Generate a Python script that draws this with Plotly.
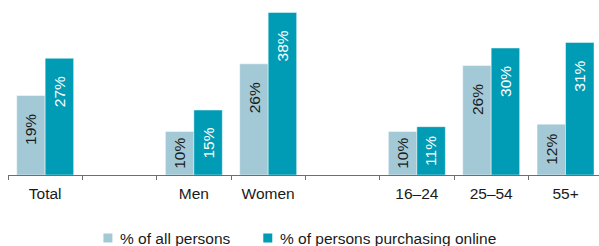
import plotly.graph_objects as go

categories = ["Total", "Men", "Women", "16–24", "25–54", "55+"]
cat_pos = [0, 2, 3, 5, 6, 7]  # slots 1 and 4 are empty spacers
all_persons = [18.6, 10.2, 26.0, 10.2, 25.6, 11.9]
online = [27.3, 15.2, 38.0, 11.3, 29.7, 31.0]
series_names = ["% of all persons", "% of persons purchasing online"]

LIGHT = "#A3C9D7"
DARK = "#009BB4"
FONT = "Liberation Sans, Arial, sans-serif"
FS = 15.5

W, H = 599, 246
ML, MR, MT, MB = 7.5, 0, 4, 71
BARGAP = 0.234
bar_w = (1 - BARGAP) / 2

fig = go.Figure()
for vals, col, name in [(all_persons, LIGHT, series_names[0]), (online, DARK, series_names[1])]:
    fig.add_trace(go.Bar(x=cat_pos, y=vals, name=name, marker=dict(color=col, line=dict(color="rgba(255,255,255,0.45)", width=1)),
                         showlegend=False, hoverinfo="skip"))

annotations = []
for i, (vals, tcol) in enumerate([(all_persons, "#1a1a1a"), (online, "#ffffff")]):
    off = (i - 0.5) * bar_w
    for xp, v in zip(cat_pos, vals):
        label = f"{round(v)}%"
        if v < 13:
            annotations.append(dict(x=xp + off, y=v / 2, xref="x", yref="y", text=label, textangle=-90,
                                    showarrow=False, yanchor="middle", xanchor="center",
                                    font=dict(family=FONT, size=FS, color=tcol)))
        else:
            annotations.append(dict(x=xp + off, y=v, xref="x", yref="y", text=label, textangle=-90,
                                    showarrow=False, yanchor="top", xanchor="center", yshift=-16,
                                    font=dict(family=FONT, size=FS, color=tcol)))

# manual legend
pw = W - ML - MR
ph = H - MT - MB
def px_x(p):
    return (p - ML) / pw
def px_y(p):
    return (H - MB - p) / ph

shapes = []
leg_items = [(103, LIGHT, series_names[0]), (263, DARK, series_names[1])]
for x0, col, name in leg_items:
    shapes.append(dict(type="rect", xref="paper", yref="paper", x0=px_x(x0), x1=px_x(x0 + 9),
                       y0=px_y(242.5), y1=px_y(233.5), fillcolor=col, line=dict(width=0)))
    annotations.append(dict(x=px_x(x0 + 15), y=px_y(238), xref="paper", yref="paper", text=name,
                            showarrow=False, xanchor="left", yanchor="middle",
                            font=dict(family=FONT, size=FS, color="#1a1a1a")))

fig.update_layout(
    width=W, height=H,
    margin=dict(l=ML, r=MR, t=MT, b=MB, pad=0),
    paper_bgcolor="white", plot_bgcolor="white",
    barmode="group", bargap=BARGAP, bargroupgap=0,
    annotations=annotations, shapes=shapes,
    xaxis=dict(range=[-0.5, -0.5 + pw / 74.4], tickmode="array", tickvals=cat_pos, ticktext=categories,
               ticks="", showgrid=False, zeroline=False, showline=True, linecolor="#6e6e6e", linewidth=1,
               ticklabelstandoff=4,
               tickfont=dict(family=FONT, size=FS, color="#1a1a1a"),
               minor=dict(tick0=-0.5, dtick=1, ticks="outside", ticklen=4, tickcolor="#6e6e6e", tickwidth=1, showgrid=False)),
    yaxis=dict(range=[0, 40], visible=False, showgrid=False, zeroline=False),
)

fig.write_html("out.html", config={"displayModeBar": False, "staticPlot": True},
               post_script="document.body.style.margin='0';document.body.style.overflow='hidden';")
